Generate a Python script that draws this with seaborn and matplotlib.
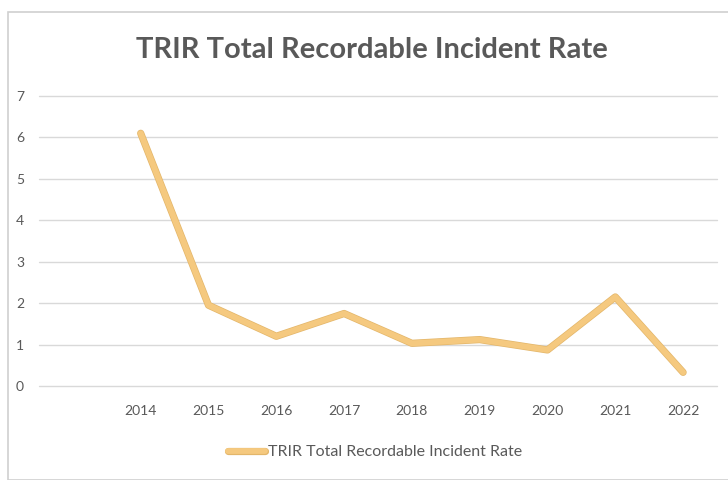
import matplotlib
matplotlib.use("Agg")
import matplotlib.pyplot as plt
import matplotlib.patheffects as pe
from matplotlib.patches import Rectangle
import seaborn as sns
import pandas as pd

years = ["2014", "2015", "2016", "2017", "2018", "2019", "2020", "2021", "2022"]
trir = [6.1, 1.95, 1.2, 1.75, 1.03, 1.12, 0.87, 2.15, 0.33]
series_name = "TRIR Total Recordable Incident Rate"
title_text = "TRIR Total Recordable Incident Rate"
y_ticks = [0, 1, 2, 3, 4, 5, 6, 7]

sns.set_theme(style="white")
plt.rcParams["font.family"] = ["Lato", "DejaVu Sans"]

df = pd.DataFrame({"year": years, "rate": trir})

fig = plt.figure(figsize=(7.28, 4.80), dpi=100)
fig.patch.set_facecolor("white")

# chart-area frame
fig.patches.append(Rectangle((8 / 728, 0), 1, 1 - 12 / 480, transform=fig.transFigure,
                             facecolor="none", edgecolor="#D0D0D0", linewidth=1.2, zorder=-1))

ax = fig.add_axes([39 / 728, 1 - 386 / 480, (717 - 39) / 728, (386 - 96) / 480])
ax.set_facecolor("none")

line_color = "#F5C97F"
sns.lineplot(data=df, x="year", y="rate", ax=ax, color=line_color, linewidth=4.2,
             label=series_name, sort=False, zorder=3,
             path_effects=[pe.Stroke(linewidth=5.2, foreground="#E3B66A"), pe.Normal()])

ax.set_xlim(-1.5, 8.5)
ax.set_ylim(0, 7)
ax.set_yticks(y_ticks)
ax.set_yticklabels([str(v) for v in y_ticks])
for v in y_ticks:
    ax.axhline(v, color="#D9D9D9", linewidth=1.0, zorder=1, clip_on=False)
for s in ax.spines.values():
    s.set_visible(False)
ax.grid(False)
ax.set_xlabel("")
ax.set_ylabel("")
ax.tick_params(axis="x", length=0, pad=14, labelsize=10, labelcolor="#595959")
ax.tick_params(axis="y", length=0, labelsize=10, labelcolor="#595959")
for lbl in ax.get_yticklabels():
    lbl.set_horizontalalignment("left")
ax.yaxis.set_tick_params(pad=16.5)

ax.get_legend().remove()
handles, labels = ax.get_legend_handles_labels()
leg = fig.legend(handles, labels, loc="center", bbox_to_anchor=(375 / 728, 1 - 452 / 480),
                 frameon=False, fontsize=11.5, handlelength=2.3, handletextpad=0.2)
for t in leg.get_texts():
    t.set_color("#595959")

fig.text(372 / 728, 1 - 50 / 480, title_text, ha="center", va="center",
         fontsize=21, fontweight="bold", color="#595959")

fig.savefig("out.png", dpi=100)
